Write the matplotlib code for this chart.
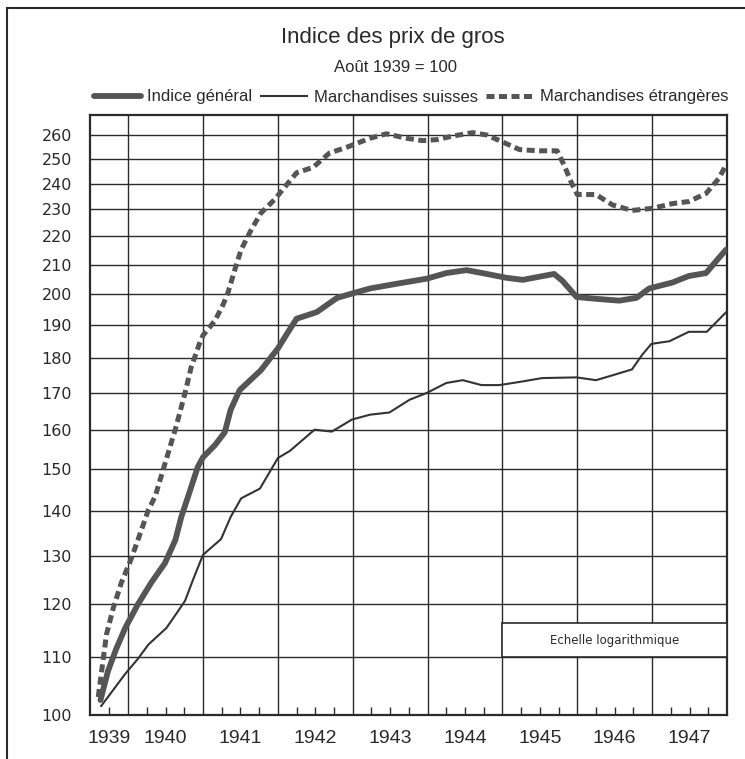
import matplotlib
matplotlib.use("Agg")
import matplotlib.pyplot as plt
from matplotlib.lines import Line2D
from matplotlib.patches import Rectangle
from matplotlib.ticker import FixedLocator, NullLocator, NullFormatter

narrow = ['Liberation Sans Narrow', 'Liberation Sans', 'DejaVu Sans']

# temps en annees decimales (1940.0 = janvier 1940), indices aout 1939 = 100
gen_t = [1939.63, 1939.73, 1939.84, 1939.96, 1940.13, 1940.31, 1940.49, 1940.63,
         1940.71, 1940.80, 1940.93, 1941.00, 1941.16, 1941.29, 1941.37, 1941.49,
         1941.77, 1942.00, 1942.13, 1942.25, 1942.52, 1942.79, 1943.00, 1943.23,
         1943.59, 1943.99, 1944.25, 1944.52, 1944.73, 1945.05, 1945.27, 1945.69,
         1945.80, 1945.99, 1946.25, 1946.56, 1946.79, 1946.96, 1947.27, 1947.49,
         1947.72, 1947.89, 1947.99]
gen_v = [102.5, 107.5, 111.5, 115.4, 120.0, 124.4, 128.4, 133.4,
         138.6, 143.3, 150.5, 152.9, 156.0, 159.3, 165.4, 170.8,
         176.4, 182.9, 187.7, 192.1, 194.2, 198.8, 200.3, 201.9,
         203.5, 205.2, 207.1, 208.1, 207.1, 205.5, 204.8, 206.8,
         204.5, 199.1, 198.5, 197.9, 198.8, 201.9, 203.9, 206.1,
         207.1, 212.3, 215.3]

suisse_t = [1939.64, 1939.96, 1940.13, 1940.27, 1940.51, 1940.64, 1940.76, 1940.87,
            1941.00, 1941.24, 1941.37, 1941.51, 1941.76, 1942.00, 1942.16, 1942.49,
            1942.72, 1942.99, 1943.23, 1943.49, 1943.76, 1943.99, 1944.25, 1944.47,
            1944.72, 1944.96, 1945.23, 1945.53, 1945.99, 1946.25, 1946.47, 1946.73,
            1946.87, 1946.99, 1947.23, 1947.49, 1947.73, 1947.99]
suisse_v = [101.5, 107.0, 109.7, 112.3, 115.4, 118.1, 120.7, 125.1,
            130.2, 133.6, 138.6, 142.9, 145.2, 152.7, 154.5, 160.0,
            159.5, 162.7, 164.0, 164.6, 168.1, 170.0, 172.8, 173.6,
            172.2, 172.2, 173.1, 174.2, 174.4, 173.6, 175.0, 176.7,
            181.1, 184.3, 185.1, 188.0, 188.0, 194.2]

etr_t = [1939.60, 1939.71, 1939.80, 1939.91, 1940.03, 1940.13, 1940.27, 1940.36,
         1940.49, 1940.64, 1940.76, 1940.84, 1940.96, 1941.00, 1941.16, 1941.27,
         1941.33, 1941.43, 1941.51, 1941.64, 1941.77, 1941.96, 1942.13, 1942.25,
         1942.47, 1942.69, 1942.92, 1943.23, 1943.45, 1943.72, 1943.93, 1944.12,
         1944.33, 1944.60, 1944.79, 1944.96, 1945.23, 1945.49, 1945.73, 1945.83,
         1945.92, 1946.00, 1946.25, 1946.47, 1946.73, 1947.00, 1947.27, 1947.49,
         1947.72, 1947.89, 1947.99]
etr_v = [103.0, 114.2, 119.2, 124.4, 128.9, 133.4, 140.2, 143.3,
         151.2, 160.8, 170.0, 177.2, 184.9, 186.9, 191.5, 196.7,
         200.3, 208.7, 215.3, 222.2, 228.5, 233.9, 240.0, 244.3,
         246.5, 252.4, 254.8, 258.6, 260.5, 258.6, 257.6, 258.0,
         259.5, 261.0, 260.0, 257.6, 253.8, 253.3, 253.3, 247.0,
         240.4, 235.7, 235.7, 231.7, 229.6, 230.4, 232.2, 233.0,
         236.1, 242.0, 247.6]

y_ticks = [100, 110, 120, 130, 140, 150, 160, 170, 180, 190, 200, 210, 220, 230, 240, 250, 260]
years = [1939, 1940, 1941, 1942, 1943, 1944, 1945, 1946, 1947]

ink = '#2a2a2a'

fig = plt.figure(figsize=(7.45, 7.59), dpi=100)
ax = fig.add_axes([90 / 745, 44 / 759, 637 / 745, 600 / 759])

ax.set_yscale('log')
ax.set_ylim(100, 268.7)
ax.set_xlim(1939.49, 1948.0)

ax.yaxis.set_major_locator(FixedLocator(y_ticks))
ax.yaxis.set_minor_locator(NullLocator())
ax.yaxis.set_minor_formatter(NullFormatter())
ax.set_yticks(y_ticks)
ax.set_yticklabels([str(v) for v in y_ticks], fontsize=11.5, color=ink)
ax.tick_params(axis='y', length=0, pad=13)
ax.grid(axis='y', color=ink, lw=1.0)

# annees au milieu de chaque annee (avec trait), autres trimestres en mineur
mids = [1939.75] + [y + 0.5 for y in years[1:]]
ax.set_xticks(mids)
ax.set_xticklabels([str(y) for y in years], fontsize=14, family=narrow[1:], color=ink)
quarters = [y + q for y in years[1:] for q in (0.25, 0.75)]
ax.xaxis.set_minor_locator(FixedLocator(quarters))
ax.xaxis.set_minor_formatter(NullFormatter())
ax.tick_params(axis='x', which='both', direction='in', length=6, width=1.0, color=ink)
ax.tick_params(axis='x', which='major', pad=11)
for yr in years[1:]:
    ax.axvline(yr, color=ink, lw=1.0, zorder=1)

for s in ax.spines.values():
    s.set_color(ink)
    s.set_linewidth(1.6)

l1, = ax.plot(gen_t, gen_v, color='#555555', lw=4.2, solid_capstyle='round', zorder=4)
l2, = ax.plot(suisse_t, suisse_v, color='#333333', lw=1.5, zorder=4)
l3, = ax.plot(etr_t, etr_v, color='#555555', lw=3.6, dashes=(1.6, 0.9), zorder=4)

box = Rectangle((1945.0, 110), 3.0, 6.3, facecolor='white', edgecolor=ink, lw=1.2, zorder=3)
ax.add_patch(box)
ax.text(1946.5, 113.1, 'Echelle logarithmique', ha='center', va='center', fontsize=8.5,
        color=ink, zorder=5)

fig.text(393 / 745, 1 - 38 / 759, 'Indice des prix de gros', ha='center', va='center',
         fontsize=16, family=narrow, color=ink)
fig.text(395 / 745, 1 - 68 / 759, 'Août 1939 = 100', ha='center', va='center',
         fontsize=12, family=narrow, color=ink)

ax.legend([l1, l2, l3], ['Indice général', 'Marchandises suisses', 'Marchandises étrangères'],
          ncol=3, loc='center', bbox_to_anchor=(411 / 745, 1 - 97 / 759),
          bbox_transform=fig.transFigure, frameon=False, handlelength=2.8,
          handletextpad=0.4, columnspacing=0.5, prop={'family': narrow, 'size': 12},
          labelcolor=ink, borderpad=0)

# cadre exterieur
fig.add_artist(Line2D([7 / 745, 7 / 745], [0, 1 - 8 / 759], color=ink, lw=1.5))
fig.add_artist(Line2D([7 / 745, 1], [1 - 8 / 759, 1 - 8 / 759], color=ink, lw=1.5))

fig.savefig('out.png', dpi=100)
